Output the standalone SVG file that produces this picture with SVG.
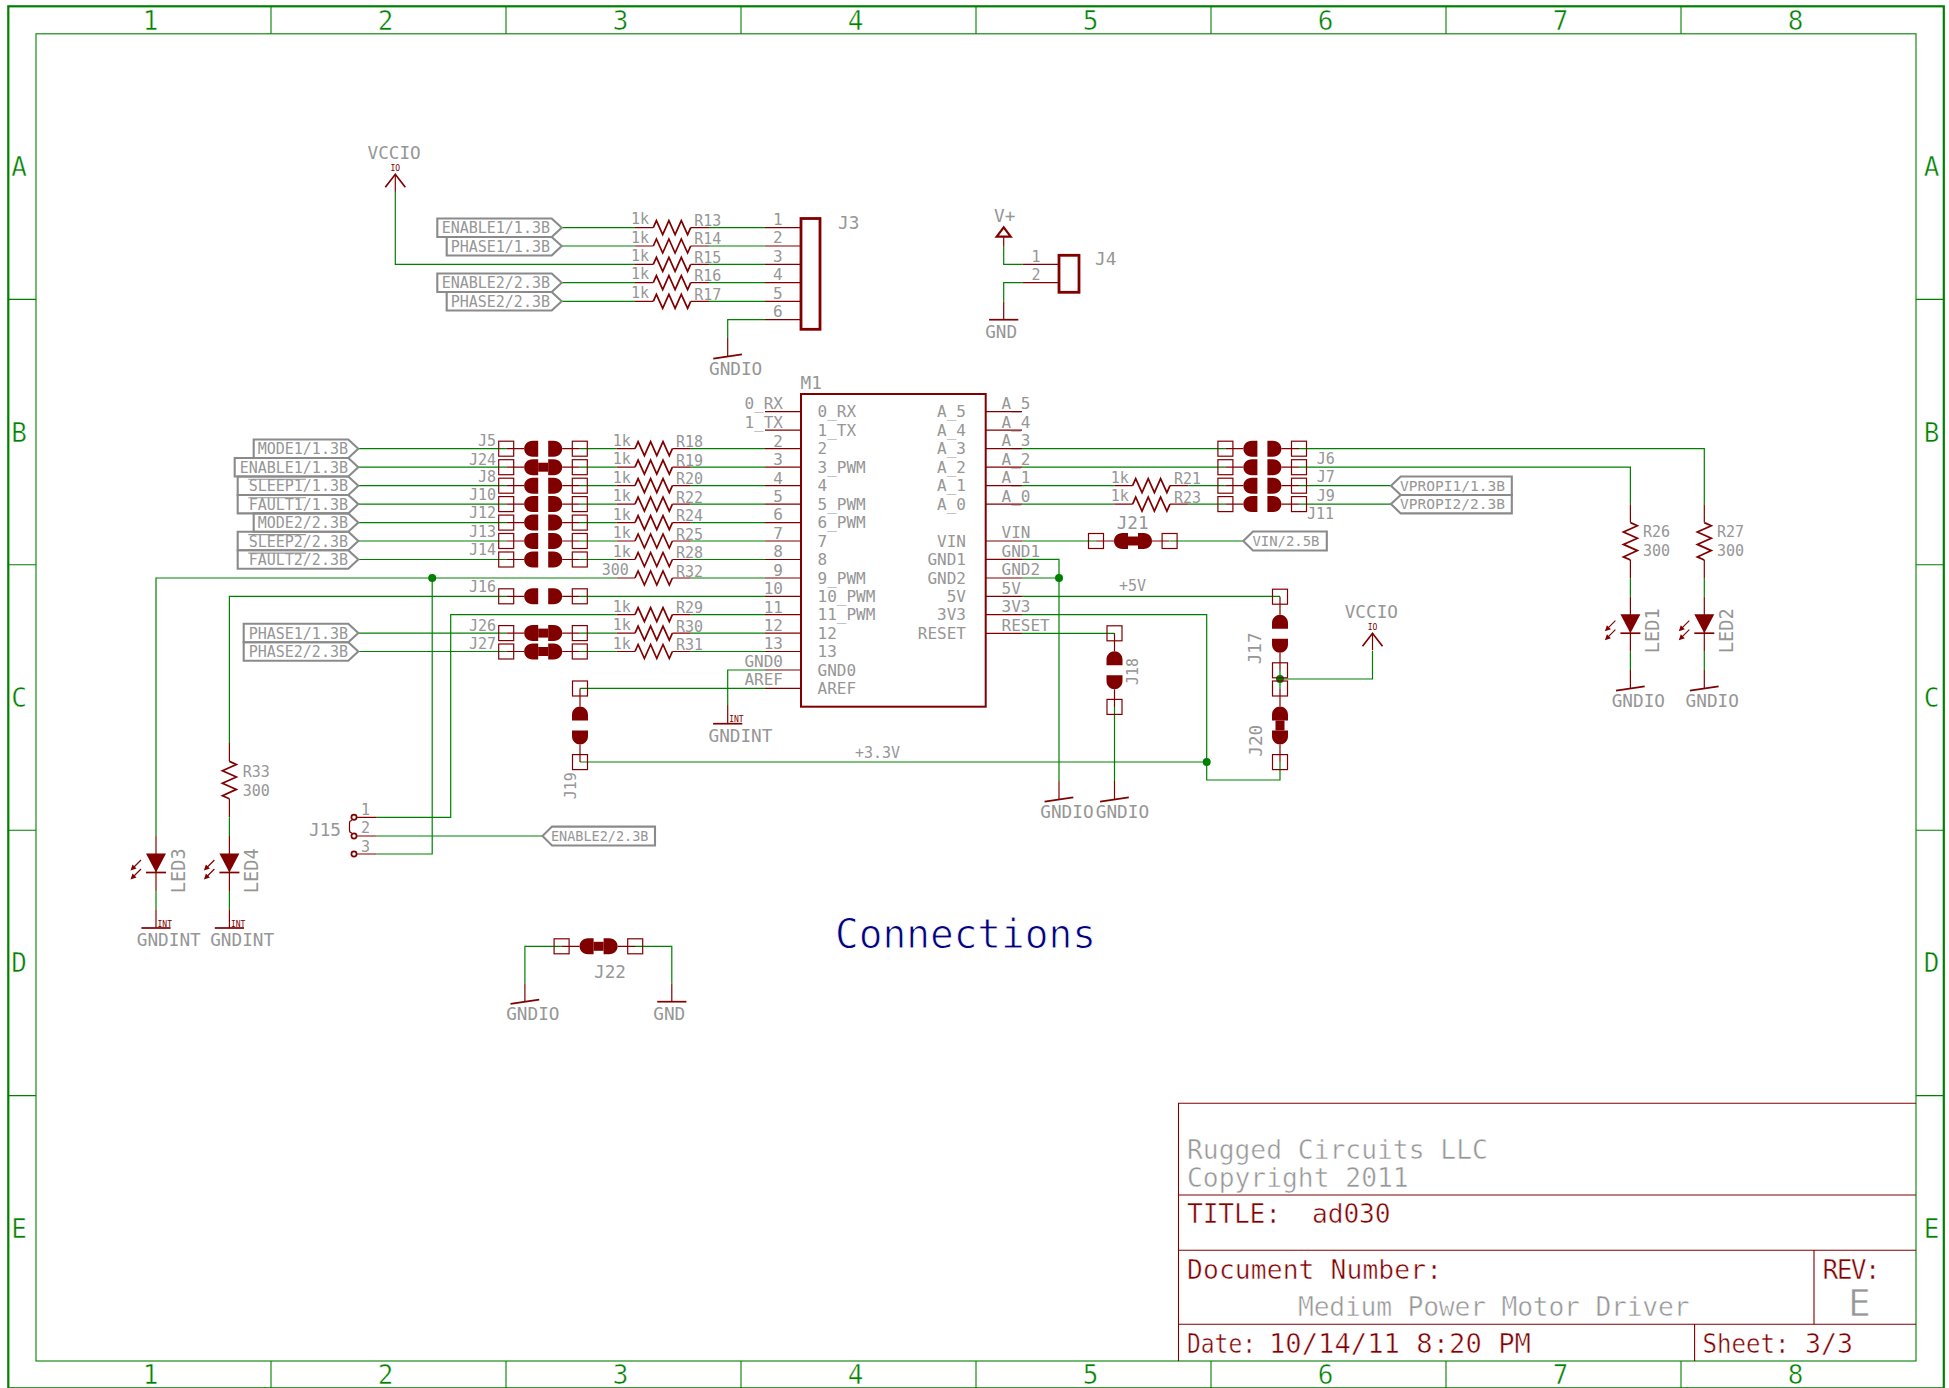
<svg xmlns="http://www.w3.org/2000/svg" width="1949" height="1388" viewBox="0 0 1949 1388">
<style>
text{font-family:"DejaVu Sans Mono","Liberation Mono",monospace;fill:#969696}
.t14{font-size:14px}.t15{font-size:15px}.t16{font-size:16px}.t18{font-size:17.7px}.t19{font-size:18.700px}.t26{font-size:26.300px;stroke:#fff;stroke-width:.5}
.e{text-anchor:end}.m{text-anchor:middle}
.fr{fill:#008000;font-size:26px;text-anchor:middle;stroke:#fff;stroke-width:.5}
.tr{fill:#800000}
.small{fill:#800000;font-size:8px}
.w{fill:none;stroke:#008000;stroke-width:1.2}
.p{fill:none;stroke:#800000;stroke-width:1.2}
.p2{fill:none;stroke:#800000;stroke-width:1.7;stroke-linejoin:miter}
.sq{fill:none;stroke:#800000;stroke-width:1.2}
.df{fill:#800000;stroke:none}
.fl{fill:none;stroke:#8a8a8a;stroke-width:2.100}
.ov{stroke:#969696;stroke-width:1.1;fill:none}
.box{fill:none;stroke:#800000;stroke-width:2.800}
.box2{fill:none;stroke:#800000;stroke-width:2}
.tri{fill:none;stroke:#800000;stroke-width:2.200}
.tb{fill:none;stroke:#800000;stroke-width:1.100}
.f1{fill:none;stroke:#008000;stroke-width:2.200}
.f2{fill:none;stroke:#008000;stroke-width:1.100}
.dot{fill:#008000}
</style>
<defs>
<g id="jb">
<rect class="sq" x="-7.500" y="-7.500" width="15" height="15"/><rect class="sq" x="66.100" y="-7.500" width="15" height="15"/>
<path class="p" d="M0 0H18M56 0H73.600"/>
<path class="df" d="M32-8H26.500C21-8 18-4 18 0S21 8 26.500 8H32ZM42-8H47.500C53-8 56-4 56 0S53 8 47.500 8H42Z"/>
</g>
<g id="jc"><use href="#jb"/><rect class="df" x="32" y="-4.500" width="10" height="9"/></g>
<g id="r"><path class="p" d="M-37 0H-18.700M18.700 0H37"/><path class="p2" d="M-18.700 0L-15.600-7L-9.300 7L-3.100-7L3.100 7L9.300-7L15.600 7L18.700 0"/></g>
<g id="led">
<path class="p" d="M0 0V55"/>
<path class="df" d="M-10 17.500H10L0 36.500Z"/>
<path class="p2" d="M-10 36.500H10"/>
<path class="p" d="M-15 24L-22 31M-15 33L-22 40"/>
<path class="df" d="M-25.500 34.500L-23.500 28.500L-19.500 32.500ZM-25.500 43.500L-23.500 37.500L-19.500 41.500Z"/>
</g>
<g id="gndio"><path class="p" d="M0 0V18.700"/><path class="p2" d="M-14.400 20.600L14.300 16.400"/><text class="t18" x="-18.700" y="36.500">GNDIO</text></g>
<g id="gndint"><path class="p" d="M0 0V18.700"/><path class="p2" d="M-14.600 18.700H14.600"/><text class="small" x="1.500" y="17.300">INT</text><text class="t18" x="-19.200" y="36.700">GNDINT</text></g>
<g id="gnd"><path class="p" d="M0 0V18"/><path class="p2" d="M-14.600 18H14.600"/><text class="t18" x="-18.500" y="36.500">GND</text></g>
<g id="vcc"><path class="p" d="M0 0V17"/><path class="p2" d="M-10 13L0 0L10 13"/><text class="small m" x="0" y="-3.500">IO</text><text class="t18" x="-27.800" y="-15">VCCIO</text></g>
</defs>

<g id="frame">
<rect class="f1" x="8.300" y="6.300" width="1935.500" height="1382"/>
<rect class="f2" x="36" y="33.800" width="1880" height="1327.200"/>
<path class="f2" d="M271 6V34M506 6V34M741 6V34M976 6V34M1211 6V34M1446 6V34M1681 6V34M271 1361V1388M506 1361V1388M741 1361V1388M976 1361V1388M1211 1361V1388M1446 1361V1388M1681 1361V1388M8 299.400H36M8 564.800H36M8 830.200H36M8 1095.600H36M1916 299.400H1944M1916 564.800H1944M1916 830.200H1944M1916 1095.600H1944"/>
<text class="fr" x="150.500" y="30">1</text><text class="fr" x="385.500" y="30">2</text><text class="fr" x="620.500" y="30">3</text><text class="fr" x="855.500" y="30">4</text><text class="fr" x="1090.500" y="30">5</text><text class="fr" x="1325.500" y="30">6</text><text class="fr" x="1560.500" y="30">7</text><text class="fr" x="1795.500" y="30">8</text>
<text class="fr" x="150.500" y="1384">1</text><text class="fr" x="385.500" y="1384">2</text><text class="fr" x="620.500" y="1384">3</text><text class="fr" x="855.500" y="1384">4</text><text class="fr" x="1090.500" y="1384">5</text><text class="fr" x="1325.500" y="1384">6</text><text class="fr" x="1560.500" y="1384">7</text><text class="fr" x="1795.500" y="1384">8</text>
<text class="fr" x="19" y="176">A</text><text class="fr" x="19" y="442">B</text><text class="fr" x="19" y="707">C</text><text class="fr" x="19" y="972">D</text><text class="fr" x="19" y="1238">E</text>
<text class="fr" x="1931.500" y="176">A</text><text class="fr" x="1931.500" y="442">B</text><text class="fr" x="1931.500" y="707">C</text><text class="fr" x="1931.500" y="972">D</text><text class="fr" x="1931.500" y="1238">E</text>
</g>

<g id="connectors">
<path class="w" d="M358.300 448.700H506M580 448.700H616.700M690.700 448.700H765M358.300 467.200H506M580 467.200H616.700M690.700 467.200H765M358.300 485.700H506M580 485.700H616.700M690.700 485.700H765M358.300 504.100H506M580 504.100H616.700M690.700 504.100H765M358.300 522.600H506M580 522.600H616.700M690.700 522.600H765M358.300 541H506M580 541H616.700M690.700 541H765M358.300 559.500H506M580 559.500H616.700M690.700 559.500H765"/>
<path class="w" d="M156 836V578H616.700M690.700 578H765M432.200 578V854H376.700"/>
<path class="w" d="M229.400 743V596.300H506M580 596.300H765"/>
<path class="w" d="M376.700 817.300H450.700V614.700H616.700M690.700 614.700H765"/>
<path class="w" d="M358.300 633.100H506M580 633.100H616.700M690.700 633.100H765M358.300 651.500H506M580 651.500H616.700M690.700 651.500H765"/>
<path class="w" d="M376.700 836H542.500"/>
<path class="w" d="M229.400 817.300V836M156 891V909.300M229.400 891V909.300"/>
<path class="w" d="M395.300 191V264.300H635M709 264.300H765"/>
<path class="w" d="M561.700 227.700H635M709 227.700H765M561.700 246H635M709 246H765M561.700 282.700H635M709 282.700H765M561.700 301.300H635M709 301.300H765"/>
<path class="w" d="M727.700 338V319.700H765"/>
<path class="w" d="M1003.700 246V264.300H1022.700M1003.700 301.700V282.700H1022.700"/>
<path class="w" d="M765 670H727.700V705M765 688.300H580M580 762H1206.700"/>
<path class="w" d="M1022 448.700H1225.400M1299 448.700H1704.300V504.300M1022 467.200H1225.400M1299 467.200H1630.400V504.300"/>
<path class="w" d="M1022 485.700H1114.300M1188.300 485.700H1225.400M1299 485.700H1391M1022 504.100H1114.300M1188.300 504.100H1225.400M1299 504.100H1391"/>
<path class="w" d="M1022 541H1096M1170 541H1243.300"/>
<path class="w" d="M1022 559.300H1059V781M1022 578H1059"/>
<path class="w" d="M1022 596.300H1280M1022 614.700H1206.700V780H1280V762M1022 633.300H1114.500M1114.500 707V781"/>
<path class="w" d="M1280 670V688.500M1280 679H1372.500V651"/>
<path class="w" d="M1704.300 578.300V596.700M1704.300 651.700V670M1630.400 578.300V596.700M1630.400 651.700V670"/>
<path class="w" d="M561.600 946.300H524.900V983.300M635 946.300H671.800V983.700"/>
<circle class="dot" cx="432.200" cy="578" r="4"/>
<circle class="dot" cx="1059" cy="578" r="4"/>
<circle class="dot" cx="1206.700" cy="762" r="4"/>
<circle class="dot" cx="1280" cy="679" r="4"/>
</g>

<g id="VCCIO-1"><use href="#vcc" x="395.300" y="174.300"/></g>
<g id="VCCIO-2"><use href="#vcc" x="1372.500" y="633.300"/></g>

<g id="flags-J3">
<polygon class="fl" points="437.300,218.500 551.700,218.500 561.700,227.700 551.700,237 437.300,237"/><text class="t15 e" x="550" y="233">ENABLE1/1.3B</text>
<polygon class="fl" points="446.700,237 551.700,237 561.700,246 551.700,255.500 446.700,255.500"/><text class="t15 e" x="550" y="251.500">PHASE1/1.3B</text>
<polygon class="fl" points="437.300,273.500 551.700,273.500 561.700,282.700 551.700,292 437.300,292"/><text class="t15 e" x="550" y="288">ENABLE2/2.3B</text>
<polygon class="fl" points="446.700,292 551.700,292 561.700,301.300 551.700,310.500 446.700,310.500"/><text class="t15 e" x="550" y="306.800">PHASE2/2.3B</text>
</g>
<g id="R13"><use href="#r" x="672" y="227.700"/><text class="t15" x="631" y="224.300">1k</text><text class="t15" x="694.300" y="226">R13</text></g>
<g id="R14"><use href="#r" x="672" y="246"/><text class="t15" x="631" y="242.600">1k</text><text class="t15" x="694.300" y="244.300">R14</text></g>
<g id="R15"><use href="#r" x="672" y="264.300"/><text class="t15" x="631" y="261">1k</text><text class="t15" x="694.300" y="262.700">R15</text></g>
<g id="R16"><use href="#r" x="672" y="282.700"/><text class="t15" x="631" y="279.300">1k</text><text class="t15" x="694.300" y="281">R16</text></g>
<g id="R17"><use href="#r" x="672" y="301.300"/><text class="t15" x="631" y="297.900">1k</text><text class="t15" x="694.300" y="299.600">R17</text></g>
<g id="J3">
<rect class="box" x="801" y="218.500" width="19" height="110.800"/>
<path class="p" d="M765 227.700H801M765 246H801M765 264.300H801M765 282.700H801M765 301.300H801M765 319.700H801"/>
<text class="t16" x="773" y="225">1</text><text class="t16" x="773" y="243.300">2</text><text class="t16" x="773" y="261.600">3</text><text class="t16" x="773" y="280">4</text><text class="t16" x="773" y="298.600">5</text><text class="t16" x="773" y="317">6</text>
<text class="t18" x="838" y="228.500">J3</text>
</g>
<g id="GNDIO-J3"><use href="#gndio" x="727.700" y="338"/></g>

<g id="Vplus"><path class="p" d="M1003.700 236.700V246"/><path class="tri" d="M996.700 236.700H1010.700L1003.700 227.300Z"/><text class="t18" x="994" y="221.700">V+</text></g>
<g id="J4">
<rect class="box" x="1059" y="255.300" width="20" height="37"/>
<path class="p" d="M1022.700 264.300H1059M1022.700 282.700H1059"/>
<text class="t15" x="1031.500" y="261.700">1</text><text class="t15" x="1031.500" y="280">2</text>
<text class="t18" x="1095" y="265">J4</text>
</g>
<g id="GND-J4"><use href="#gnd" x="1003.700" y="301.700"/></g>

<g id="flags-left">
<polygon class="fl" points="253.700,439.500 348.300,439.500 358.300,448.700 348.300,458 253.700,458"/><text class="t15 e" x="348" y="454.200">MODE1/1.3B</text>
<polygon class="fl" points="234.700,458 348.300,458 358.300,467.200 348.300,476.500 234.700,476.500"/><text class="t15 e" x="348" y="472.700">ENABLE1/1.3B</text>
<polygon class="fl" points="237.700,476.500 348.300,476.500 358.300,485.700 348.300,495 237.700,495"/><text class="t15 e" x="348" y="491.200">SLEEP1/1.3B</text><path class="ov" d="M248.300 479.300H306"/>
<polygon class="fl" points="237.700,495 348.300,495 358.300,504.100 348.300,513.400 237.700,513.400"/><text class="t15 e" x="348" y="509.600">FAULT1/1.3B</text><path class="ov" d="M248.300 497.700H306"/>
<polygon class="fl" points="253.700,513.400 348.300,513.400 358.300,522.600 348.300,531.800 253.700,531.800"/><text class="t15 e" x="348" y="528.100">MODE2/2.3B</text>
<polygon class="fl" points="237.700,531.800 348.300,531.800 358.300,541 348.300,550.200 237.700,550.200"/><text class="t15 e" x="348" y="546.500">SLEEP2/2.3B</text><path class="ov" d="M248.300 534.600H306"/>
<polygon class="fl" points="237.700,550.200 348.300,550.200 358.300,559.500 348.300,568.700 237.700,568.700"/><text class="t15 e" x="348" y="565">FAULT2/2.3B</text><path class="ov" d="M248.300 553.100H306"/>
<polygon class="fl" points="243.700,623.800 348.300,623.800 358.300,633.100 348.300,642.300 243.700,642.300"/><text class="t15 e" x="348" y="638.600">PHASE1/1.3B</text>
<polygon class="fl" points="243.700,642.300 348.300,642.300 358.300,651.500 348.300,660.700 243.700,660.700"/><text class="t15 e" x="348" y="657">PHASE2/2.3B</text>
</g>
<g id="J5"><use href="#jb" x="506.200" y="448.700"/><text class="t15 e" x="496" y="446">J5</text></g>
<g id="J24"><use href="#jc" x="506.200" y="467.200"/><text class="t15 e" x="496" y="464.700">J24</text></g>
<g id="J8"><use href="#jb" x="506.200" y="485.700"/><text class="t15 e" x="496" y="481.500">J8</text></g>
<g id="J10"><use href="#jb" x="506.200" y="504.100"/><text class="t15 e" x="496" y="499.500">J10</text></g>
<g id="J12"><use href="#jb" x="506.200" y="522.600"/><text class="t15 e" x="496" y="518.300">J12</text></g>
<g id="J13"><use href="#jb" x="506.200" y="541"/><text class="t15 e" x="496" y="536.700">J13</text></g>
<g id="J14"><use href="#jb" x="506.200" y="559.500"/><text class="t15 e" x="496" y="555">J14</text></g>
<g id="J16"><use href="#jb" x="506.200" y="596.300"/><text class="t15 e" x="496" y="592">J16</text></g>
<g id="J26"><use href="#jc" x="506.200" y="633.100"/><text class="t15 e" x="496" y="630.700">J26</text></g>
<g id="J27"><use href="#jc" x="506.200" y="651.500"/><text class="t15 e" x="496" y="649.300">J27</text></g>

<g id="R18"><use href="#r" x="653.700" y="448.700"/><text class="t15" x="612.700" y="445.700">1k</text><text class="t15" x="676" y="447.300">R18</text></g>
<g id="R19"><use href="#r" x="653.700" y="467.200"/><text class="t15" x="612.700" y="464.200">1k</text><text class="t15" x="676" y="465.800">R19</text></g>
<g id="R20"><use href="#r" x="653.700" y="485.700"/><text class="t15" x="612.700" y="482.700">1k</text><text class="t15" x="676" y="484.300">R20</text></g>
<g id="R22"><use href="#r" x="653.700" y="504.100"/><text class="t15" x="612.700" y="501.100">1k</text><text class="t15" x="676" y="502.700">R22</text></g>
<g id="R24"><use href="#r" x="653.700" y="522.600"/><text class="t15" x="612.700" y="519.600">1k</text><text class="t15" x="676" y="521.200">R24</text></g>
<g id="R25"><use href="#r" x="653.700" y="541"/><text class="t15" x="612.700" y="538">1k</text><text class="t15" x="676" y="539.600">R25</text></g>
<g id="R28"><use href="#r" x="653.700" y="559.500"/><text class="t15" x="612.700" y="556.500">1k</text><text class="t15" x="676" y="558.100">R28</text></g>
<g id="R32"><use href="#r" x="653.700" y="578"/><text class="t15" x="601.700" y="575">300</text><text class="t15" x="676" y="576.600">R32</text></g>
<g id="R29"><use href="#r" x="653.700" y="614.700"/><text class="t15" x="612.700" y="611.700">1k</text><text class="t15" x="676" y="613.300">R29</text></g>
<g id="R30"><use href="#r" x="653.700" y="633.100"/><text class="t15" x="612.700" y="630.100">1k</text><text class="t15" x="676" y="631.700">R30</text></g>
<g id="R31"><use href="#r" x="653.700" y="651.500"/><text class="t15" x="612.700" y="648.500">1k</text><text class="t15" x="676" y="650.100">R31</text></g>

<g id="M1">
<rect class="box2" x="801" y="394" width="184.700" height="312.700"/>
<path class="p" d="M765 411.700H801M765 430.100H801M765 448.700H801M765 467.200H801M765 485.700H801M765 504.100H801M765 522.600H801M765 541H801M765 559.500H801M765 578H801M765 596.300H801M765 614.700H801M765 633.100H801M765 651.500H801M765 670H801M765 688.300H801"/>
<path class="p" d="M985.700 411.700H1022M985.700 430.100H1022M985.700 448.700H1022M985.700 467.200H1022M985.700 485.700H1022M985.700 504.100H1022M985.700 541H1022M985.700 559.300H1022M985.700 578H1022M985.700 596.300H1022M985.700 614.700H1022M985.700 633.300H1022"/>
<text class="t18" x="800.500" y="389">M1</text>
<g class="t16">
<text class="e" x="783" y="409">0_RX</text><text class="e" x="783" y="427.500">1_TX</text><text class="e" x="783" y="446.500">2</text><text class="e" x="783" y="465">3</text><text class="e" x="783" y="483.500">4</text><text class="e" x="783" y="501.800">5</text><text class="e" x="783" y="520.300">6</text><text class="e" x="783" y="538.700">7</text><text class="e" x="783" y="557.200">8</text><text class="e" x="783" y="575.700">9</text><text class="e" x="783" y="594">10</text><text class="e" x="783" y="612.500">11</text><text class="e" x="783" y="630.800">12</text><text class="e" x="783" y="649.200">13</text><text class="e" x="783" y="667.400">GND0</text><text class="e" x="783" y="685.300">AREF</text>
<text x="817.500" y="417.200">0_RX</text><text x="817.500" y="435.600">1_TX</text><text x="817.500" y="454.200">2</text><text x="817.500" y="472.700">3_PWM</text><text x="817.500" y="491.200">4</text><text x="817.500" y="509.600">5_PWM</text><text x="817.500" y="528.100">6_PWM</text><text x="817.500" y="546.500">7</text><text x="817.500" y="565">8</text><text x="817.500" y="583.500">9_PWM</text><text x="817.500" y="601.800">10_PWM</text><text x="817.500" y="620.200">11_PWM</text><text x="817.500" y="638.600">12</text><text x="817.500" y="657">13</text><text x="817.500" y="675.500">GND0</text><text x="817.500" y="693.800">AREF</text>
<text class="e" x="966" y="417.200">A_5</text><text class="e" x="966" y="435.600">A_4</text><text class="e" x="966" y="454.200">A_3</text><text class="e" x="966" y="472.700">A_2</text><text class="e" x="966" y="491.200">A_1</text><text class="e" x="966" y="509.600">A_0</text><text class="e" x="966" y="546.500">VIN</text><text class="e" x="966" y="565">GND1</text><text class="e" x="966" y="583.500">GND2</text><text class="e" x="966" y="601.800">5V</text><text class="e" x="966" y="620.200">3V3</text><text class="e" x="966" y="638.800">RESET</text>
<text x="1001.500" y="409">A_5</text><text x="1001.500" y="427.500">A_4</text><text x="1001.500" y="446">A_3</text><text x="1001.500" y="464.500">A_2</text><text x="1001.500" y="483">A_1</text><text x="1001.500" y="501.500">A_0</text><text x="1001.500" y="538">VIN</text><text x="1001.500" y="556.500">GND1</text><text x="1001.500" y="575">GND2</text><text x="1001.500" y="593.500">5V</text><text x="1001.500" y="612">3V3</text><text x="1001.500" y="630.500">RESET</text>
</g>
</g>
<g id="GNDINT-M1"><use href="#gndint" x="727.700" y="705"/></g>

<g id="R21"><use href="#r" x="1151.300" y="485.700"/><text class="t15" x="1110.700" y="482.700">1k</text><text class="t15" x="1174" y="484.300">R21</text></g>
<g id="R23"><use href="#r" x="1151.300" y="504.100"/><text class="t15" x="1110.700" y="501">1k</text><text class="t15" x="1174" y="502.700">R23</text></g>
<g id="J6"><use href="#jb" x="1225.400" y="448.700"/><text class="t15" x="1316.800" y="464.300">J6</text></g>
<g id="J7"><use href="#jb" x="1225.400" y="467.200"/><text class="t15" x="1316.800" y="482.300">J7</text></g>
<g id="J9"><use href="#jb" x="1225.400" y="485.700"/><text class="t15" x="1316.800" y="500.700">J9</text></g>
<g id="J11"><use href="#jb" x="1225.400" y="504.100"/><text class="t15" x="1307" y="519.300">J11</text></g>
<g id="flags-right">
<polygon class="fl" points="1391,485.700 1400.700,476.500 1511.800,476.500 1511.800,495 1400.700,495"/><text class="t14" x="1400" y="491" textLength="105" lengthAdjust="spacingAndGlyphs">VPROPI1/1.3B</text>
<polygon class="fl" points="1391,504.100 1400.700,495 1511.800,495 1511.800,513.400 1400.700,513.400"/><text class="t14" x="1400" y="509.400" textLength="105" lengthAdjust="spacingAndGlyphs">VPROPI2/2.3B</text>
<polygon class="fl" points="1243.300,541 1253,531.500 1326.800,531.500 1326.800,550.500 1253,550.500"/><text class="t14" x="1252.500" y="546" textLength="67" lengthAdjust="spacingAndGlyphs">VIN/2.5B</text>
<polygon class="fl" points="542.500,836 552,826.600 655,826.600 655,845.500 552,845.500"/><text class="t14" x="551" y="841" textLength="97.500" lengthAdjust="spacingAndGlyphs">ENABLE2/2.3B</text>
</g>
<g id="J21"><use href="#jc" x="1096" y="541"/><text class="t18" x="1116.700" y="529.300">J21</text></g>
<g id="R26"><use href="#r" transform="translate(1630.400 541.300) rotate(90)"/><text class="t15" x="1643" y="536.700">R26</text><text class="t15" x="1643" y="556">300</text></g>
<g id="R27"><use href="#r" transform="translate(1704.300 541.300) rotate(90)"/><text class="t15" x="1717" y="536.700">R27</text><text class="t15" x="1717" y="556">300</text></g>
<g id="LED1"><use href="#led" x="1630.400" y="596.700"/><text class="t19" transform="translate(1658.800 653.300) rotate(-90)">LED1</text></g>
<g id="LED2"><use href="#led" x="1704.300" y="596.700"/><text class="t19" transform="translate(1732.900 653.300) rotate(-90)">LED2</text></g>
<g id="GNDIO-LED1"><use href="#gndio" x="1630.400" y="670"/></g>
<g id="GNDIO-LED2"><use href="#gndio" x="1704.300" y="670"/></g>
<g id="GNDIO-M1"><use href="#gndio" x="1059" y="781"/></g>
<g id="GNDIO-J18"><use href="#gndio" x="1114.500" y="781"/></g>
<g id="J18"><use href="#jb" transform="translate(1114.500 633.300) rotate(90)"/><text class="t15" transform="translate(1138 685) rotate(-90)">J18</text></g>
<g id="J17"><use href="#jb" transform="translate(1280 596.700) rotate(90)"/><text class="t18" transform="translate(1261.400 664.300) rotate(-90)">J17</text></g>
<g id="J20"><use href="#jc" transform="translate(1280 688.500) rotate(90)"/><text class="t18" transform="translate(1261.700 756.700) rotate(-90)">J20</text></g>
<g id="J19"><use href="#jb" transform="translate(580 688.500) rotate(90)"/><text class="t15" transform="translate(575.700 799.300) rotate(-90)">J19</text></g>
<text id="net-5V" class="t15" x="1119" y="590.700">+5V</text>
<text id="net-3V3" class="t15" x="855" y="758">+3.3V</text>

<g id="R33"><use href="#r" transform="translate(229.400 780.100) rotate(90)"/><text class="t15" x="242.800" y="776.700">R33</text><text class="t15" x="242.800" y="796">300</text></g>
<g id="LED3"><use href="#led" x="156" y="836"/><text class="t19" transform="translate(184.600 893.300) rotate(-90)">LED3</text></g>
<g id="LED4"><use href="#led" x="229.400" y="836"/><text class="t19" transform="translate(258 893.300) rotate(-90)">LED4</text></g>
<g id="GNDINT-LED3"><use href="#gndint" x="156" y="909.300"/></g>
<g id="GNDINT-LED4"><use href="#gndint" x="229.400" y="909.300"/></g>
<g id="J15">
<path class="p" d="M354 817.300H376.700M354 836H376.700M354 854H376.700"/>
<circle cx="354" cy="817.300" r="2.600" fill="#fff" stroke="#800000" stroke-width="1.700"/><circle cx="354" cy="836" r="2.600" fill="#fff" stroke="#800000" stroke-width="1.700"/><circle cx="354" cy="854" r="2.600" fill="#fff" stroke="#800000" stroke-width="1.700"/>
<path class="p" d="M352 820.500Q349.500 820.500 349.500 823V830Q349.500 833 352 833"/>
<text class="t15" x="361" y="815">1</text><text class="t15" x="361" y="833">2</text><text class="t15" x="361" y="851.700">3</text>
<text class="t18" x="309" y="836">J15</text>
</g>
<g id="J22"><use href="#jc" x="561.600" y="946.300"/><text class="t18" x="594" y="977.700">J22</text></g>
<g id="GNDIO-J22"><use href="#gndio" x="524.900" y="983.300"/></g>
<g id="GND-J22"><use href="#gnd" x="671.800" y="983.700"/></g>
<text id="caption" x="835" y="947.500" font-size="40" textLength="261" lengthAdjust="spacingAndGlyphs" style="fill:#000080;stroke:#fff;stroke-width:.9">Connections</text>

<g id="titleblock">
<path class="tb" d="M1916 1103.300H1178.500V1361M1178.500 1195H1916M1178.500 1250.300H1916M1178.500 1324.300H1916M1814 1250.300V1324.300M1694.600 1324.300V1361"/>
<text class="t26" x="1187" y="1159.300">Rugged Circuits LLC</text>
<text class="t26" x="1187" y="1187">Copyright 2011</text>
<text class="t26 tr" x="1187" y="1223.300" xml:space="preserve" textLength="203.500">TITLE:  ad030</text>
<text class="t26 tr" x="1187" y="1278.700" textLength="255">Document Number:</text>
<text class="t26" x="1298" y="1316" textLength="391.500">Medium Power Motor Driver</text>
<text class="t26 tr" x="1822.600" y="1278.700" textLength="58">REV:</text>
<text x="1848" y="1316" font-size="38" style="stroke:#fff;stroke-width:.7">E</text>
<text class="t26 tr" x="1187" y="1352.500" textLength="69" lengthAdjust="spacingAndGlyphs">Date:</text>
<text class="t26 tr" x="1269" y="1352.500" textLength="262" lengthAdjust="spacingAndGlyphs">10/14/11 8:20 PM</text>
<text class="t26 tr" x="1702.500" y="1352.500" textLength="87" lengthAdjust="spacingAndGlyphs">Sheet:</text>
<text class="t26 tr" x="1805" y="1352.500" textLength="48" lengthAdjust="spacingAndGlyphs">3/3</text>
</g>
</svg>
